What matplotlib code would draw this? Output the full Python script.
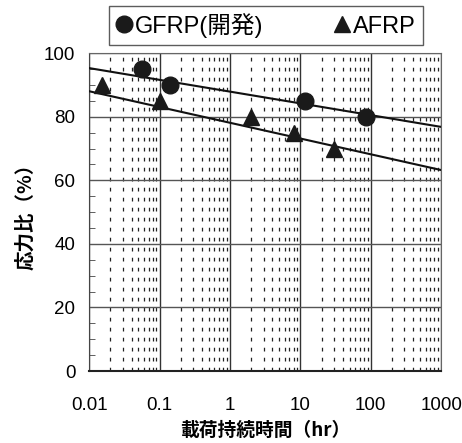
import matplotlib
matplotlib.use("Agg")
import matplotlib.pyplot as plt
import numpy as np
from matplotlib.ticker import FixedLocator, NullFormatter, LogLocator

plt.rcParams['font.family'] = ['Liberation Sans', 'Noto Sans CJK JP', 'DejaVu Sans']

# data
gfrp_time = [0.057, 0.14, 11.5, 85]
gfrp_ratio = [95, 90, 85, 80]
afrp_time = [0.015, 0.1, 2.0, 8.0, 30]
afrp_ratio = [90, 85, 80, 75, 70]

# fitted lines: ratio = a + b * log10(time)
gfrp_fit = [87.9, -3.7]
afrp_fit = [78.1, -4.96]

x_ticks = [0.01, 0.1, 1, 10, 100, 1000]
x_labels = ["0.01", "0.1", "1", "10", "100", "1000"]
y_ticks = [0, 20, 40, 60, 80, 100]

fig = plt.figure(figsize=(4.62, 4.43), dpi=100)
ax = fig.add_axes([0.193, 0.1625, 0.762, 0.7175])

xx = np.logspace(-2, 3, 50)
ax.plot(xx, gfrp_fit[0] + gfrp_fit[1] * np.log10(xx), color='#111111', lw=1.5, zorder=3)
ax.plot(xx, afrp_fit[0] + afrp_fit[1] * np.log10(xx), color='#111111', lw=1.5, zorder=3)

ax.plot(gfrp_time, gfrp_ratio, 'o', color='#1a1a1a', ms=12, ls='none', label='GFRP(開発)', zorder=4)
ax.plot(afrp_time, afrp_ratio, '^', color='#1a1a1a', ms=12, ls='none', label='AFRP', zorder=4)

ax.set_xscale('log')
ax.set_xlim(0.01, 1000)
ax.set_ylim(0, 100)
ax.set_xticks(x_ticks)
ax.set_xticklabels(x_labels)
ax.xaxis.set_minor_locator(LogLocator(base=10, subs=np.arange(2, 10)))
ax.xaxis.set_minor_formatter(NullFormatter())
ax.set_yticks(y_ticks)
ax.yaxis.set_minor_locator(FixedLocator(np.arange(0, 101, 5)))

ax.grid(which='major', axis='y', color='#555555', lw=1.0)
ax.grid(which='major', axis='x', color='#333333', lw=1.0)
ax.grid(which='minor', axis='x', color='#222222', lw=0.9, ls=(0, (3, 5)))

ax.tick_params(axis='both', which='major', length=0, labelsize=13.5)
ax.tick_params(axis='x', which='major', pad=19)
ax.tick_params(axis='y', which='major', pad=10)
ax.tick_params(axis='x', which='minor', length=0)
ax.tick_params(axis='y', which='minor', direction='in', length=4, color='#444444')
for sp in ['top', 'right']:
    ax.spines[sp].set_color('#666666')
    ax.spines[sp].set_linewidth(0.8)
ax.spines['left'].set_color('#444444')
ax.spines['bottom'].set_color('#222222')
ax.spines['bottom'].set_linewidth(1.5)

cjk = ['Noto Sans CJK JP', 'DejaVu Sans']
ax.set_xlabel('載荷持続時間（hr）', fontsize=13.5, fontweight='bold', labelpad=5, family=cjk)
ax.set_ylabel('応力比（%）', fontsize=14, fontweight='bold', labelpad=6, family=cjk)

leg = fig.legend(loc='center', bbox_to_anchor=(0.575, 0.943), ncol=2, fontsize=17,
                 frameon=True, fancybox=False, edgecolor='#333333',
                 handlelength=0.7, handletextpad=0.1, columnspacing=3.0,
                 borderpad=0.3, borderaxespad=0, markerscale=1.0)
leg.get_frame().set_linewidth(1.0)

fig.savefig('out.png', dpi=100)
